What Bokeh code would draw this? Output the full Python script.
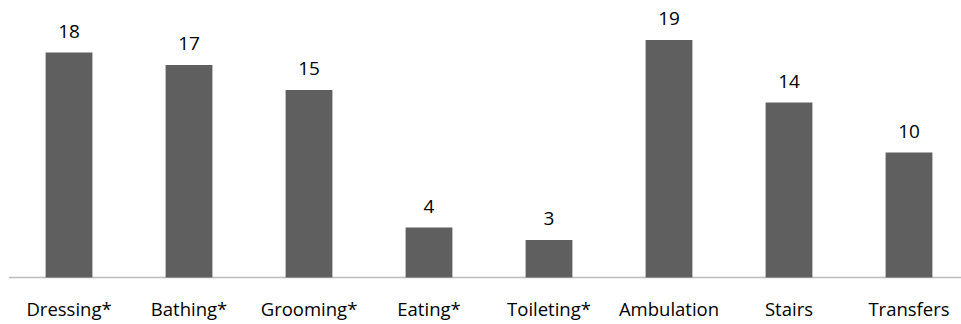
from bokeh.plotting import figure
from bokeh.models import Range1d, ColumnDataSource
from bokeh.core.properties import value
from bokeh.embed import file_html
from bokeh.resources import INLINE

# Number of patients needing help, per activity
categories = ["Dressing*", "Bathing*", "Grooming*", "Eating*", "Toileting*",
              "Ambulation", "Stairs", "Transfers"]
counts = [18, 17, 15, 4, 3, 19, 14, 10]

xs = list(range(len(categories)))
src = ColumnDataSource(dict(
    x=xs,
    count=counts,
    label=[str(c) for c in counts],
    label_y=[c + 1.72 for c in counts],
    cat=categories,
    cat_y=[-2.45] * len(categories),
))

p = figure(width=961, height=324, output_backend="svg", toolbar_location=None,
           x_range=Range1d(-0.571, 7.4375), y_range=Range1d(-3.76, 22.16),
           min_border=0, min_border_left=0, min_border_right=0,
           min_border_top=0, min_border_bottom=0)
p.axis.visible = False
p.grid.visible = False
p.outline_line_color = None
p.background_fill_color = "white"
p.border_fill_color = "white"

# baseline
p.segment(x0=[-0.5], y0=[0], x1=[7.5], y1=[0], line_color="#bcbcbc", line_width=1.5)

p.vbar(x="x", top="count", bottom=0, width=0.39, source=src,
       fill_color="#5f5f5f", line_color=None)

p.text(x="x", y="label_y", text="label", source=src,
       text_font=value("Open Sans"), text_font_size="19px", text_color="#000000",
       text_align="center", text_baseline="alphabetic")

p.text(x="x", y="cat_y", text="cat", source=src,
       text_font=value("Open Sans"), text_font_size="18.5px", text_color="#000000",
       text_align="center", text_baseline="alphabetic")

open("out.html", "w").write(file_html(p, INLINE))
